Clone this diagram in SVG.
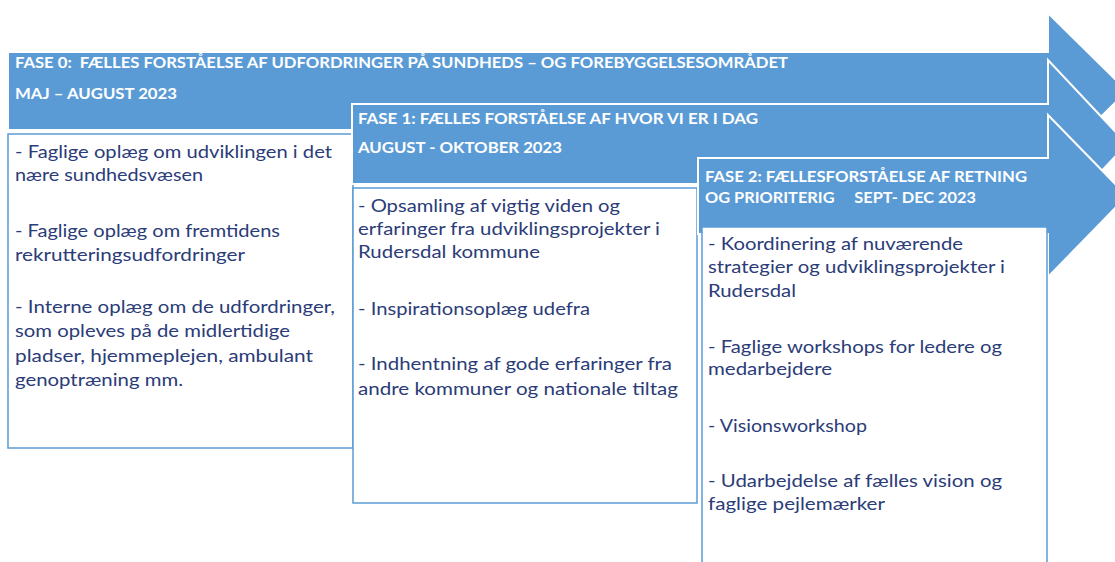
<svg xmlns="http://www.w3.org/2000/svg" width="1115" height="562" viewBox="0 0 1115 562">
<style>
.arrow{fill:#5B9BD5;stroke:#FFFFFF;stroke-width:2;stroke-linejoin:miter}
.box{fill:#FFFFFF;stroke:#5B9BD5;stroke-width:1.5}
.hd{font-family:Lato,"Liberation Sans",sans-serif;font-weight:700;font-size:14.5px;fill:#FFFFFF;white-space:pre}
.bd{font-family:Lato,"Liberation Sans",sans-serif;font-size:16.5px;fill:#2B3C78;white-space:pre}
</style>
<rect width="1115" height="562" fill="#FFFFFF"/>
<g id="phase0">
<path class="arrow" d="M8,52 H1048 V13 L1127,91 L1048,169 V130 H8 Z"/>
<text class="hd" x="15" y="68" textLength="773" lengthAdjust="spacingAndGlyphs">FASE 0:  FÆLLES FORSTÅELSE AF UDFORDRINGER PÅ SUNDHEDS – OG FOREBYGGELSESOMRÅDET</text>
<text class="hd" x="15" y="99" textLength="162" lengthAdjust="spacingAndGlyphs">MAJ – AUGUST 2023</text>
<rect class="box" x="8" y="134" width="345" height="314"/>
<text class="bd" x="15" y="158" textLength="317" lengthAdjust="spacingAndGlyphs">- Faglige oplæg om udviklingen i det</text>
<text class="bd" x="15" y="181" textLength="188" lengthAdjust="spacingAndGlyphs">nære sundhedsvæsen</text>
<text class="bd" x="15" y="237" textLength="265" lengthAdjust="spacingAndGlyphs">- Faglige oplæg om fremtidens</text>
<text class="bd" x="15" y="261" textLength="230" lengthAdjust="spacingAndGlyphs">rekrutteringsudfordringer</text>
<text class="bd" x="15" y="313" textLength="320" lengthAdjust="spacingAndGlyphs">- Interne oplæg om de udfordringer,</text>
<text class="bd" x="15" y="337" textLength="275" lengthAdjust="spacingAndGlyphs">som opleves på de midlertidige</text>
<text class="bd" x="15" y="362" textLength="298" lengthAdjust="spacingAndGlyphs">pladser, hjemmeplejen, ambulant</text>
<text class="bd" x="15" y="386" textLength="168" lengthAdjust="spacingAndGlyphs">genoptræning mm.</text>
</g>
<g id="phase1">
<path class="arrow" d="M352,104 H1048 V60 L1127,144 L1048,228 V184 H352 Z"/>
<text class="hd" x="358" y="124" textLength="400" lengthAdjust="spacingAndGlyphs">FASE 1: FÆLLES FORSTÅELSE AF HVOR VI ER I DAG</text>
<text class="hd" x="358" y="153" textLength="204" lengthAdjust="spacingAndGlyphs">AUGUST - OKTOBER 2023</text>
<rect class="box" x="353" y="188" width="344" height="315"/>
<text class="bd" x="358" y="212" textLength="262" lengthAdjust="spacingAndGlyphs">- Opsamling af vigtig viden og</text>
<text class="bd" x="358" y="235" textLength="302" lengthAdjust="spacingAndGlyphs">erfaringer fra udviklingsprojekter i</text>
<text class="bd" x="358" y="258" textLength="182" lengthAdjust="spacingAndGlyphs">Rudersdal kommune</text>
<text class="bd" x="358" y="315" textLength="232" lengthAdjust="spacingAndGlyphs">- Inspirationsoplæg udefra</text>
<text class="bd" x="358" y="370" textLength="314" lengthAdjust="spacingAndGlyphs">- Indhentning af gode erfaringer fra</text>
<text class="bd" x="358" y="395" textLength="320" lengthAdjust="spacingAndGlyphs">andre kommuner og nationale tiltag</text>
</g>
<g id="phase2">
<path class="arrow" d="M698,158 H1048 V115 L1127,196 L1048,277 V234 H698 Z"/>
<text class="hd" x="705" y="182" textLength="322" lengthAdjust="spacingAndGlyphs">FASE 2: FÆLLESFORSTÅELSE AF RETNING</text>
<text class="hd" x="705" y="203" textLength="271" lengthAdjust="spacingAndGlyphs">OG PRIORITERIG     SEPT- DEC 2023</text>
<rect class="box" x="702" y="227" width="345" height="345"/>
<text class="bd" x="708" y="250" textLength="255" lengthAdjust="spacingAndGlyphs">- Koordinering af nuværende</text>
<text class="bd" x="708" y="273" textLength="297" lengthAdjust="spacingAndGlyphs">strategier og udviklingsprojekter i</text>
<text class="bd" x="708" y="297" textLength="88" lengthAdjust="spacingAndGlyphs">Rudersdal</text>
<text class="bd" x="708" y="353" textLength="294" lengthAdjust="spacingAndGlyphs">- Faglige workshops for ledere og</text>
<text class="bd" x="708" y="375" textLength="124" lengthAdjust="spacingAndGlyphs">medarbejdere</text>
<text class="bd" x="708" y="432" textLength="159" lengthAdjust="spacingAndGlyphs">- Visionsworkshop</text>
<text class="bd" x="708" y="487" textLength="294" lengthAdjust="spacingAndGlyphs">- Udarbejdelse af fælles vision og</text>
<text class="bd" x="708" y="510" textLength="177" lengthAdjust="spacingAndGlyphs">faglige pejlemærker</text>
</g>
<g id="connectors"/>
</svg>
